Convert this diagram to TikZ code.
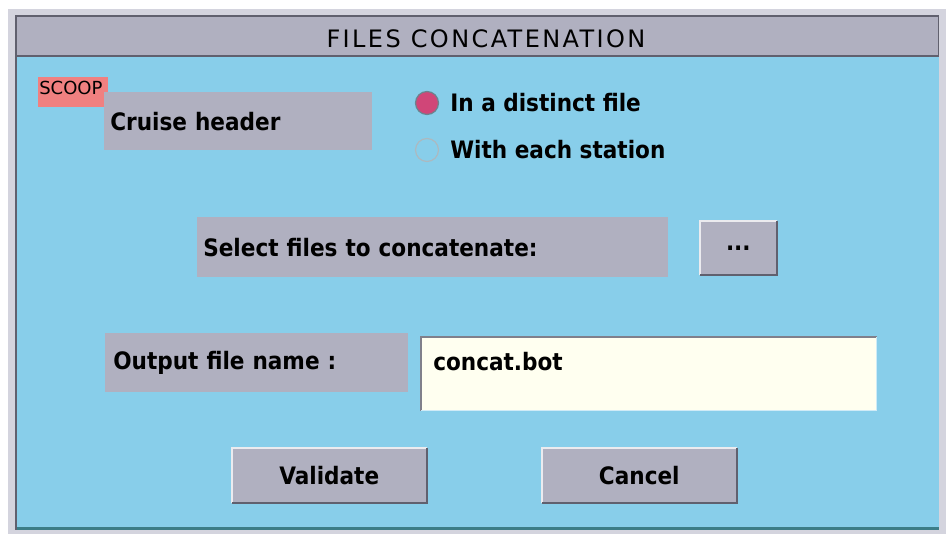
\documentclass[tikz,border=0pt]{standalone}
\usepackage{fontspec}
\usepackage{tikz}
\usetikzlibrary{positioning}
\setmainfont{DejaVu Sans}
\newfontfamily\uifont{DejaVu Sans Condensed}
\newfontfamily\titlefont{DejaVu Sans}[LetterSpace=10]

\definecolor{panelblue}{RGB}{136,206,234}
\definecolor{boxgray}{RGB}{176,176,192}
\definecolor{framegray}{RGB}{212,212,222}
\definecolor{edgegray}{RGB}{96,96,110}
\definecolor{scoopred}{RGB}{240,128,128}
\definecolor{fieldivory}{RGB}{255,255,240}
\definecolor{radiopink}{RGB}{208,70,120}
\definecolor{radioring}{RGB}{70,100,115}
\definecolor{bottomteal}{RGB}{60,125,135}

\begin{document}
\begin{tikzpicture}[x=1pt, y=-1pt, semithick]
	\tikzstyle{every node}=[font=\uifont\bfseries\fontsize{24}{28}\selectfont, text=black]
	\tikzstyle{label box}=[fill=boxgray, anchor=north west, inner sep=6pt, align=left]
	\tikzstyle{button}=[fill=boxgray, anchor=north west, inner sep=0pt]
	\tikzstyle{radio}=[circle, draw=radioring!80, line width=1.2pt, minimum size=23pt, inner sep=0pt]
	\tikzstyle{plain}=[inner sep=0pt, anchor=west]

	\useasboundingbox (0,0) rectangle (946,534);
	\fill[white] (0,0) rectangle (946,534);
	\fill[framegray] (8,9) rectangle (946,534);
	\fill[edgegray] (15,15) rectangle (939,530);
	\fill[boxgray] (17,17) rectangle (938,55);
	\fill[panelblue] (17,57) rectangle (939,527);
	\fill[bottomteal] (17,527) rectangle (939,530);

	\node[font=\titlefont\fontsize{24}{27}\selectfont] (title) at (486,39) {FILES CONCATENATION};

	\node[fill=scoopred, anchor=north west, inner sep=0pt, minimum width=70pt, minimum height=30pt] (scoop) at (38,77) {};
	\node[plain, anchor=north west, font=\fontsize{18}{20}\selectfont] (scoop label) at (39,81) {SCOOP};
	\node[label box, text width=256pt, minimum height=58pt] (cruise) at (104,92) {Cruise header};

	\node[radio, fill=radiopink] (distinct) at (427,103) {};
	\node[radio, draw=radioring!45, fill=panelblue] (station) at (427,150) {};
	\node[plain, right=11pt of distinct] (distinct label) {In a distinct file};
	\node[plain, right=11pt of station] (station label) {With each station};

	\node[label box, text width=459pt, minimum height=60pt] (select) at (197,217) {Select files to concatenate:};
	\node[button, minimum width=76pt, minimum height=53pt] (dots) at (700,221) {...};

	\node[label box, inner sep=8pt, text width=287pt, minimum height=59pt] (output) at (105,333) {Output file name :};
	\node[fill=fieldivory, anchor=north west, minimum width=455pt, minimum height=73pt] (field) at (421,337) {};
	\node[plain] (name) at (433,362) {concat.bot};

	\node[button, minimum width=194pt, minimum height=54pt] (validate) at (232,448) {Validate};
	\node[button, minimum width=194pt, minimum height=54pt] (cancel) at (542,448) {Cancel};

	\foreach \b in {dots, validate, cancel} {
		\draw[white!75!boxgray, line width=1.5pt] (\b.south west) |- (\b.north east);
		\draw[edgegray, line width=2pt] (\b.south west) -| (\b.north east);
	}
	\draw[edgegray!80, line width=1.5pt] (field.south west) |- (field.north east);
	\draw[white!60!panelblue, line width=1.5pt] (field.south west) -| (field.north east);
\end{tikzpicture}
\end{document}
